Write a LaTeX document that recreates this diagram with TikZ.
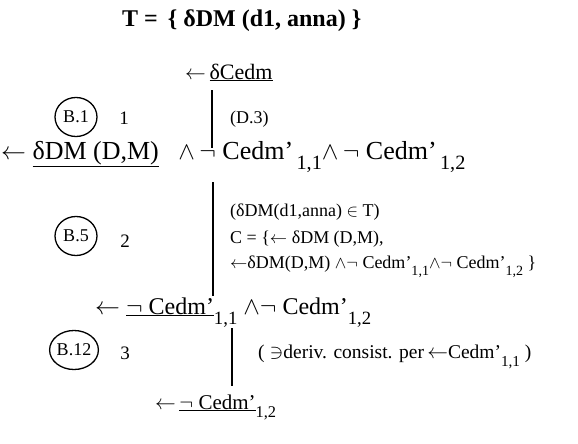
\documentclass[tikz,border=0pt]{standalone}
\usepackage{fontspec}
\usepackage{graphicx}
\setmainfont{Liberation Serif}
\usetikzlibrary{shapes.geometric}
\newcommand{\sbx}[1]{\raisebox{-0.42em}{\scalebox{0.78}{#1}}}
\newcommand{\lar}{$\leftarrow$}
\begin{document}
\begin{tikzpicture}[x=1pt,y=-1pt,
  mainline/.style={font=\fontsize{25}{30}\selectfont, anchor=base west, inner sep=0pt},
  titleline/.style={font=\fontsize{24}{30}\selectfont\bfseries, anchor=base west, inner sep=0pt},
  annline/.style={font=\fontsize{18}{22}\selectfont, anchor=base west, inner sep=0pt},
  rulebox/.style={ellipse, draw, line width=1.3pt, minimum width=42pt, minimum height=39pt, inner sep=0pt, font=\fontsize{18}{20}\selectfont},
  stepnum/.style={font=\fontsize{19}{22}\selectfont, anchor=base, inner sep=0pt},
  vrule/.style={line width=1.8pt}]
\useasboundingbox (0,0) rectangle (578,444);
% title
\node[titleline] (title) at (122,27) {T =\, \{ δDM (d1, anna) \}};
% goal
\node[mainline, font=\fontsize{22}{26}\selectfont] (g0) at (185,79) {\lar\,\underline{δCedm}};
% step 1
\node[rulebox] (b1) at (76,117) {B.1};
\node[stepnum] (n1) at (124,124) {1};
\coordinate (v1a) at (212,90);
\coordinate (v1b) at (212,148);
\draw[vrule] (v1a) -- (v1b);
\node[annline] (a1) at (230,123) {(D.3)};
% goal 2
\node[mainline, font=\fontsize{26}{30}\selectfont] (g1) at (1,159) {\lar\ \underline{δDM (D,M)}\ \ \ $\wedge$\,$\neg$\ Cedm'\sbx{\,1,1}$\wedge$\,$\neg$\ Cedm'\sbx{\,1,2}};
% step 2
\node[rulebox] (b5) at (76,236) {B.5};
\node[stepnum] (n2) at (125,247) {2};
\coordinate (v2a) at (213,182);
\coordinate (v2b) at (213,296);
\draw[vrule] (v2a) -- (v2b);
\node[annline] (a2) at (230,216) {(δDM(d1,anna) $\in$ T)};
\node[annline] (a3) at (230,243) {C = \{\lar\ δDM (D,M),};
\node[annline] (a4) at (230,268) {\lar δDM(D,M) $\wedge\neg$ Cedm'\sbx{1,1}$\wedge\neg$ Cedm'\sbx{1,2} \}};
% goal 3
\node[mainline, font=\fontsize{24}{28}\selectfont] (g2) at (95,314) {\lar\ \underline{$\neg$ Cedm'}\sbx{1,1} $\wedge\neg$ Cedm'\sbx{1,2}};
% step 3
\node[rulebox] (b12) at (74,350) {B.12};
\node[stepnum] (n3) at (125,359) {3};
\coordinate (v3a) at (232,328);
\coordinate (v3b) at (232,386);
\draw[vrule] (v3a) -- (v3b);
\node[annline, font=\fontsize{19.5}{23}\selectfont] (a5) at (258,358) {( $\ni$deriv. consist. per\,\lar Cedm'\sbx{1,1} )};
% goal 4
\node[mainline, font=\fontsize{21}{25}\selectfont] (g3) at (155,409) {\lar\,\underline{$\neg$ Cedm'}\sbx{1,2}};
\end{tikzpicture}
\end{document}
